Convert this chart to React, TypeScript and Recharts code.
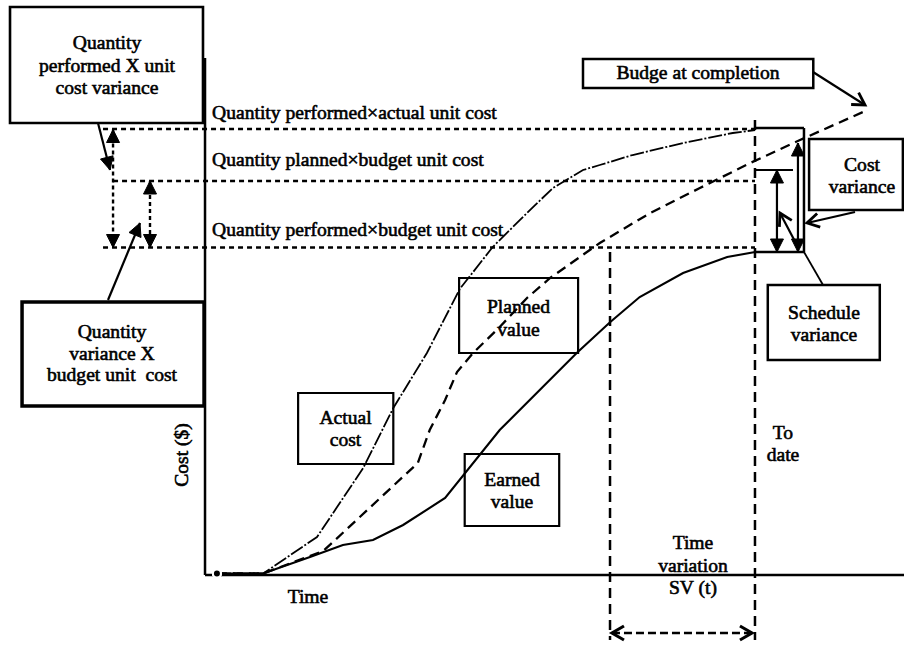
import React from "react";
import {
  ComposedChart,
  Line,
  XAxis,
  YAxis,
  ReferenceLine,
  ReferenceArea,
  ReferenceDot,
} from "recharts";

// x = time units, y = cost units (0,0 is the axes corner)
const actualCost = [
  { t: 1.7, c: 0.3 }, { t: 8.3, c: 0.3 }, { t: 16.0, c: 7.6 }, { t: 22.6, c: 21.4 },
  { t: 26.9, c: 33.4 }, { t: 31.7, c: 44.4 }, { t: 36.4, c: 57.2 }, { t: 41.1, c: 65.6 },
  { t: 46.0, c: 72.4 }, { t: 49.7, c: 77.4 }, { t: 54.0, c: 81.0 }, { t: 56.4, c: 82.0 },
  { t: 61.1, c: 84.0 }, { t: 68.3, c: 86.4 }, { t: 75.4, c: 88.4 }, { t: 78.6, c: 89.0 },
];

const plannedValue = [
  { t: 1.7, c: 0.3 }, { t: 8.3, c: 0.3 }, { t: 16.9, c: 4.8 }, { t: 30.4, c: 22.4 },
  { t: 32.1, c: 29.0 }, { t: 34.3, c: 35.0 }, { t: 36.0, c: 40.6 }, { t: 38.3, c: 44.4 },
  { t: 42.1, c: 49.6 }, { t: 46.0, c: 55.4 }, { t: 49.3, c: 59.4 }, { t: 56.4, c: 66.4 },
  { t: 63.6, c: 72.4 }, { t: 70.7, c: 77.4 }, { t: 77.9, c: 82.4 }, { t: 85.0, c: 87.0 },
  { t: 94.0, c: 92.6 },
];

const earnedValue = [
  { t: 1.7, c: 0.3 }, { t: 8.3, c: 0.3 }, { t: 15.0, c: 3.6 }, { t: 19.7, c: 6.0 },
  { t: 24.0, c: 7.0 }, { t: 28.3, c: 10.0 }, { t: 34.3, c: 15.4 }, { t: 42.1, c: 29.0 },
  { t: 53.1, c: 44.4 }, { t: 57.9, c: 50.6 }, { t: 62.1, c: 55.6 }, { t: 68.3, c: 60.4 },
  { t: 74.6, c: 63.6 }, { t: 78.6, c: 64.6 },
];

// cost levels at the status date
const actualLevel = 89.2;
const plannedLevel = 78.8;
const earnedLevel = 65.5;
const toDate = 78.57;
const svDate = 57.86;

const X_DOMAIN = [-29.29, 99.86];
const Y_DOMAIN = [-14.4, 115];
const FONT = '"Liberation Serif", "Times New Roman", serif';
const FS = 19.6;

type Pt = [number, number];
type Seg = {
  a: Pt;
  b: Pt;
  w?: number;
  dash?: string;
  head1?: "fill" | "open";
  head2?: "fill" | "open";
};

const segments: Seg[] = [
  // axes
  { a: [0, 0], b: [0, 103.4], w: 2.5 },
  { a: [0, 0], b: [99.86, 0], w: 2.5 },
  // dotted levels
  { a: [-14.57, actualLevel], b: [toDate, actualLevel], w: 2.4, dash: "5 4" },
  { a: [-13.14, plannedLevel], b: [toDate, plannedLevel], w: 2.4, dash: "5 4" },
  { a: [-14.57, earnedLevel], b: [toDate, earnedLevel], w: 2.4, dash: "5 4" },
  { a: [-13.14, 89.1], b: [-13.14, earnedLevel], w: 2.4, dash: "4 3", head1: "fill", head2: "fill" },
  { a: [-7.86, plannedLevel], b: [-7.86, earnedLevel], w: 2.4, dash: "4 3", head1: "fill", head2: "fill" },
  // pointers from left boxes
  { a: [-15.29, 90.4], b: [-13.57, 81], head2: "fill" },
  { a: [-13.86, 55], b: [-9.29, 70.4], head2: "fill" },
  // status date lines
  { a: [toDate, 91], b: [toDate, -13], w: 2.5, dash: "10 6" },
  { a: [svDate, 64.6], b: [svDate, -13], w: 2.5, dash: "10 6" },
  { a: [58.14, -11.6], b: [78.14, -11.6], w: 2.5, dash: "8 4", head1: "open", head2: "open" },
  // bracket
  { a: [toDate, 89.4], b: [85.57, 89.4], w: 2.5 },
  { a: [85.57, 89.4], b: [85.57, 64.6], w: 2.5 },
  { a: [toDate, 64.6], b: [85.57, 64.6], w: 2.5 },
  { a: [toDate, 81], b: [84.0, 81] },
  { a: [81.71, 81], b: [81.71, 64.6], head1: "fill", head2: "fill" },
  { a: [84.71, 86.4], b: [84.71, 64.6], head1: "fill", head2: "fill" },
  { a: [84.71, 65.6], b: [82.14, 72.4], head2: "open" },
  { a: [85.57, 64.6], b: [88.29, 58], w: 1.8 },
  // pointers from right boxes
  { a: [86.86, 100.6], b: [94.29, 94], head2: "open" },
  { a: [92.86, 72.6], b: [86, 70.4], head2: "open" },
];

const boxes = [
  { t1: -27.86, t2: -0.29, c1: 90.4, c2: 113.6, w: 2.6 },
  { t1: -26.14, t2: -0.14, c1: 33.8, c2: 54.6, w: 3.5 },
  { t1: 54.0, t2: 86.9, c1: 97.4, c2: 103.2, w: 2.5 },
  { t1: 86.3, t2: 99.7, c1: 73.0, c2: 87.2, w: 2.5 },
  { t1: 80.4, t2: 96.4, c1: 43.0, c2: 58.0, w: 2.5 },
  { t1: 36.3, t2: 53.3, c1: 44.4, c2: 59.4, w: 2.2 },
  { t1: 13.3, t2: 26.9, c1: 22.2, c2: 36.4, w: 2.2 },
  { t1: 37.1, t2: 50.6, c1: 9.8, c2: 24.2, w: 2.2 },
];

type Note = { t: number; c: number; lines: string[]; lh?: number; anchor?: "start" | "middle"; rotate?: boolean };

const notes: Note[] = [
  { t: -14.0, c: 101.9, lines: ["Quantity", "performed X unit", "cost variance"], lh: 22.5 },
  { t: -13.29, c: 44.3, lines: ["Quantity", "variance X", "budget unit  cost"], lh: 21.5 },
  { t: 70.43, c: 100.4, lines: ["Budge at completion"] },
  { t: 93.86, c: 79.8, lines: ["Cost", "variance"] },
  { t: 88.43, c: 50.2, lines: ["Schedule", "variance"] },
  { t: 44.79, c: 51.3, lines: ["Planned", "value"], lh: 23 },
  { t: 20.07, c: 29.2, lines: ["Actual", "cost"] },
  { t: 43.86, c: 16.8, lines: ["Earned", "value"] },
  { t: 82.57, c: 26.2, lines: ["To", "date"] },
  { t: 69.71, c: 1.9, lines: ["Time", "variation", "SV (t)"], lh: 22.5 },
  { t: 14.71, c: -4.4, lines: ["Time"] },
  { t: -3.3, c: 24, lines: ["Cost ($)"], rotate: true },
  { t: 1.0, c: 92.4, lines: ["Quantity performed×actual unit cost"], anchor: "start" },
  { t: 1.0, c: 83, lines: ["Quantity planned×budget unit cost"], anchor: "start" },
  { t: 1.0, c: 69, lines: ["Quantity performed×budget unit cost"], anchor: "start" },
];

function head(x: number, y: number, ang: number, kind: "fill" | "open", w: number) {
  const L = kind === "fill" ? 13 : 12;
  const H = kind === "fill" ? 6.5 : 7;
  const bx = x - L * Math.cos(ang);
  const by = y - L * Math.sin(ang);
  const px = -Math.sin(ang) * H;
  const py = Math.cos(ang) * H;
  const pts = `${bx + px},${by + py} ${x},${y} ${bx - px},${by - py}`;
  if (kind === "fill") return <polygon points={pts} fill="#000" stroke="#000" strokeWidth={1} />;
  return <polyline points={pts} fill="none" stroke="#000" strokeWidth={w + 0.6} />;
}

function segShape(s: Seg) {
  return (p: any) => {
    const { x1, y1, x2, y2 } = p;
    const w = s.w ?? 2.2;
    const ang = Math.atan2(y2 - y1, x2 - x1);
    return (
      <g>
        <line x1={x1} y1={y1} x2={x2} y2={y2} stroke="#000" strokeWidth={w} strokeDasharray={s.dash} />
        {s.head1 && head(x1, y1, ang + Math.PI, s.head1, w)}
        {s.head2 && head(x2, y2, ang, s.head2, w)}
      </g>
    );
  };
}

function noteShape(n: Note) {
  return (p: any) => {
    const { cx, cy } = p;
    const lh = n.lh ?? 22;
    const first = cy - ((n.lines.length - 1) * lh) / 2 + FS * 0.33;
    return (
      <text
        x={cx}
        y={first}
        textAnchor={n.anchor ?? "middle"}
        fontFamily={FONT}
        fontSize={FS}
        fill="#000"
        stroke="#000"
        strokeWidth={0.6}
        style={{ whiteSpace: "pre" }}
        transform={n.rotate ? `rotate(-90, ${cx}, ${cy})` : undefined}
      >
        {n.lines.map((l, i) => (
          <tspan key={i} x={cx} dy={i === 0 ? 0 : lh}>
            {l}
          </tspan>
        ))}
      </text>
    );
  };
}

export default function App() {
  return (
    <div style={{ position: "absolute", left: 0, top: 0, background: "#fff" }}>
      <ComposedChart width={904} height={647} margin={{ top: 0, right: 0, bottom: 0, left: 0 }}>
        <XAxis type="number" dataKey="t" domain={X_DOMAIN} allowDataOverflow hide />
        <YAxis type="number" dataKey="c" domain={Y_DOMAIN} allowDataOverflow hide />
        {boxes.map((b, i) => (
          <ReferenceArea
            key={`b${i}`}
            x1={b.t1}
            x2={b.t2}
            y1={b.c1}
            y2={b.c2}
            fill="none"
            stroke="#000"
            strokeWidth={b.w}
            ifOverflow="visible"
          />
        ))}
        {segments.map((s, i) => (
          <ReferenceLine
            key={`s${i}`}
            segment={[{ x: s.a[0], y: s.a[1] }, { x: s.b[0], y: s.b[1] }]}
            ifOverflow="visible"
            shape={segShape(s)}
          />
        ))}
        <Line data={actualCost} dataKey="c" type="linear" stroke="#000" strokeWidth={1.8}
          strokeDasharray="14 2 2 2" dot={false} isAnimationActive={false} />
        <Line data={plannedValue} dataKey="c" type="linear" stroke="#000" strokeWidth={2.3}
          strokeDasharray="10 6" dot={false} isAnimationActive={false} />
        <Line data={earnedValue} dataKey="c" type="linear" stroke="#000" strokeWidth={2.1}
          dot={false} isAnimationActive={false} />
        {notes.map((n, i) => (
          <ReferenceDot key={`n${i}`} x={n.t} y={n.c} ifOverflow="visible" shape={noteShape(n)} />
        ))}
      </ComposedChart>
    </div>
  );
}
